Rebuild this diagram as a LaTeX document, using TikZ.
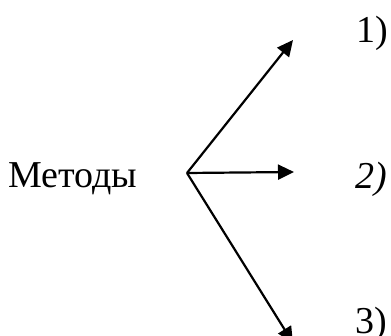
\documentclass[tikz,border=0pt]{standalone}
\usepackage{fontspec}
\setmainfont{LiberationSerif}[Extension=.ttf,UprightFont=*-Regular,ItalicFont=*-Italic,BoldFont=*-Bold]
\usetikzlibrary{arrows.meta}
\begin{document}
\begin{tikzpicture}[x=1pt,y=-1pt,
  lbl/.style={inner sep=0pt,anchor=base west,font=\fontsize{38}{42}\selectfont},
  arr/.style={line width=2.2pt,-{Triangle[length=16pt,width=15pt]}}]
\useasboundingbox (0,0) rectangle (391,336);
\node[lbl] (m) at (8,188) {Методы};
\coordinate (o) at (187,173);
\coordinate (t1) at (293,40);
\coordinate (t2) at (294,172);
\coordinate (t3) at (293,343);
\node[lbl] (l1) at (356,43) {1)};
\node[lbl] (l2) at (355,189) {\itshape 2)};
\node[lbl] (l3) at (355,334) {3)};
\draw[arr] (o) -- (t1);
\draw[arr] (o) -- (t2);
\draw[arr] (o) -- (t3);
\end{tikzpicture}
\end{document}
